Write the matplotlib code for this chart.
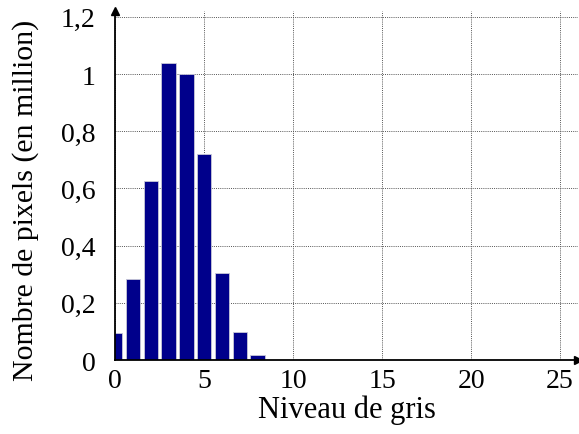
import matplotlib.pyplot as plt

# histogram of grey levels
niveaux = [0, 1, 2, 3, 4, 5, 6, 7, 8]
pixels = [0.095, 0.284, 0.626, 1.04, 1.0, 0.722, 0.304, 0.098, 0.017]

x_ticks = [0, 5, 10, 15, 20, 25]
y_ticks = [0, 0.2, 0.4, 0.6, 0.8, 1.0, 1.2]
y_labels = ["0", "0,2", "0,4", "0,6", "0,8", "1", "1,2"]

plt.rcParams['font.family'] = ['Liberation Serif', 'DejaVu Serif']

fig = plt.figure(figsize=(5.79, 4.35), dpi=100)
ax = fig.add_axes([0.199, 0.17, 0.799, 0.802])

ax.bar(niveaux, pixels, width=0.8, color='#00008b', edgecolor='#c8c8d8',
       linewidth=0.6, zorder=3)

ax.set_xlim(0, 26)
ax.set_ylim(0, 1.22)
ax.set_xticks(x_ticks)
ax.set_yticks(y_ticks)
ax.set_yticklabels(y_labels)
ax.tick_params(length=0, labelsize=20)
ax.tick_params(axis='y', pad=14)
ax.tick_params(axis='x', pad=6)

# dotted grid
ax.grid(True, linestyle=(0, (1, 1.2)), color='#555555', linewidth=0.7, zorder=0)

for s in ['top', 'right']:
    ax.spines[s].set_visible(False)
ax.spines['left'].set_linewidth(1.3)
ax.spines['bottom'].set_linewidth(1.3)
ax.spines['left'].set_zorder(4)
ax.spines['bottom'].set_zorder(4)

# arrows at the axis ends
ax.plot(1, 0, ">k", markersize=6, transform=ax.get_yaxis_transform(), clip_on=False, zorder=5)
ax.plot(0, 1, "^k", markersize=6, transform=ax.get_xaxis_transform(), clip_on=False, zorder=5)

ax.set_xlabel("Niveau de gris", fontsize=22, labelpad=1)
ax.set_ylabel("Nombre de pixels (en million)", fontsize=21.5)
ax.yaxis.set_label_coords(-0.165, 0.46)

fig.savefig("out.png", dpi=100)
